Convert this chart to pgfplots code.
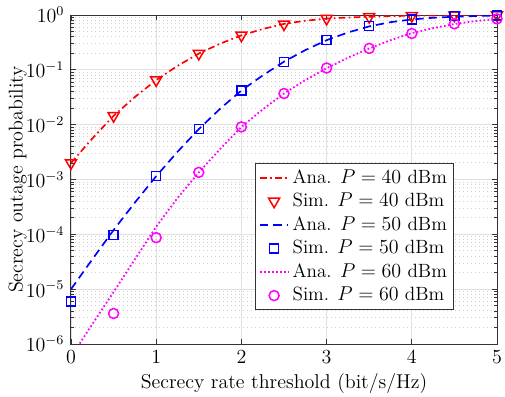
\documentclass[border=0pt]{standalone}
\usepackage{pgfplots}
\pgfplotsset{compat=1.18}
\usetikzlibrary{calc}
\definecolor{mag}{rgb}{1,0,1}
\definecolor{rd}{rgb}{1,0,0}
\definecolor{bl}{rgb}{0,0,1}
\begin{document}
\fontsize{11.5}{13}\selectfont
\begin{tikzpicture}
\begin{semilogyaxis}[
  scale only axis,
  width=255.6pt, height=197.4pt,
  xmin=0, xmax=5, ymin=1e-6, ymax=1,
  xtick={0,1,2,3,4,5},
  ytick={1e-6,1e-5,1e-4,1e-3,1e-2,1e-1,1},
  grid=both,
  major grid style={solid, line width=0.5pt, black!12},
  minor grid style={line width=0.6pt, black!18, dash pattern=on 0.6pt off 1.8pt},
  axis line style={black!80, line width=0.6pt},
  tick style={black!80, line width=0.5pt},
  major tick length=3pt, minor tick length=1.6pt,
  tick label style={font=\fontsize{11.5}{13}\selectfont},
  label style={font=\fontsize{12}{14}\selectfont},
  xlabel={Secrecy rate threshold (bit/s/Hz)},
  ylabel={Secrecy outage probability},
  xlabel style={yshift=2pt},
  ylabel style={yshift=-8.5pt},
  legend cell align=left,
  legend style={at={(rel axis cs:0.899,0.103)}, anchor=south east,
    draw=black!80, line width=0.5pt, font=\fontsize{11.5}{13}\selectfont,
    row sep=0.2pt, inner xsep=2pt, inner ysep=1.5pt},
]
% Ana 40 dBm
\addplot[color=rd, draw=rd, line width=1pt, dash pattern=on 4pt off 2pt on 1pt off 2pt] coordinates {
(0,0.0020) (0.25,0.0056) (0.5,0.0145) (0.75,0.032) (1,0.065) (1.25,0.118) (1.5,0.198) (1.75,0.30) (2,0.425) (2.25,0.555) (2.5,0.69) (2.75,0.785) (3,0.86) (3.25,0.90) (3.5,0.93) (3.75,0.955) (4,0.97) (4.25,0.98) (4.5,0.99) (4.75,0.994) (5,0.997)};
\addlegendentry{Ana. $P=40$ dBm}
% Sim 40 dBm
\addplot[color=rd, draw=rd, only marks, line width=0.9pt, mark=triangle, mark size=3.8pt, every mark/.append style={rotate=180, solid}] coordinates {
(0,0.0020) (0.5,0.0145) (1,0.065) (1.5,0.198) (2,0.425) (2.5,0.68) (3,0.86) (3.5,0.93) (4,0.97) (4.5,0.99) (5,0.995)};
\addlegendentry{Sim. $P=40$ dBm}
% Ana 50 dBm
\addplot[color=bl, draw=bl, line width=1pt, dash pattern=on 5pt off 3pt] coordinates {
(0,1.0e-5) (0.25,3.5e-5) (0.5,1.2e-4) (0.75,3.8e-4) (1,1.15e-3) (1.25,3.2e-3) (1.5,8.3e-3) (1.75,0.0195) (2,0.042) (2.25,0.079) (2.5,0.141) (2.75,0.229) (3,0.347) (3.25,0.48) (3.5,0.62) (3.75,0.74) (4,0.83) (4.25,0.89) (4.5,0.93) (4.75,0.96) (5,0.977)};
\addlegendentry{Ana. $P=50$ dBm}
% Sim 50 dBm
\addplot[color=bl, draw=bl, only marks, line width=0.9pt, mark=square, mark size=2.7pt] coordinates {
(0,6.0e-6) (0.5,9.8e-5) (1,1.15e-3) (1.5,8.4e-3) (2,0.042) (2.5,0.14) (3,0.35) (3.5,0.63) (4,0.82) (4.5,0.96) (5,0.98)};
\addlegendentry{Sim. $P=50$ dBm}
% Ana 60 dBm
\addplot[color=mag, draw=mag, line width=1.1pt, dash pattern=on 1pt off 1.4pt] coordinates {
(0,5.8e-7) (0.25,2.3e-6) (0.5,8.9e-6) (0.75,3.5e-5) (1,1.38e-4) (1.25,4.6e-4) (1.5,1.35e-3) (1.75,3.6e-3) (2,9.1e-3) (2.25,0.019) (2.5,0.037) (2.75,0.065) (3,0.107) (3.25,0.166) (3.5,0.245) (3.75,0.347) (4,0.468) (4.25,0.575) (4.5,0.685) (4.75,0.776) (5,0.845)};
\addlegendentry{Ana. $P=60$ dBm}
% Sim 60 dBm
\addplot[color=mag, draw=mag, only marks, line width=0.9pt, mark=o, mark size=3pt] coordinates {
(0.5,3.6e-6) (1,8.7e-5) (1.5,1.35e-3) (2,9.1e-3) (2.5,0.037) (3,0.108) (3.5,0.246) (4,0.46) (4.5,0.69) (5,0.85)};
\addlegendentry{Sim. $P=60$ dBm}
\end{semilogyaxis}
\pgfresetboundingbox
\path ($(current axis.south west)+(-42.6pt,-31.8pt)$) rectangle ($(current axis.north east)+(4.8pt,9pt)$);
\end{tikzpicture}
\end{document}
